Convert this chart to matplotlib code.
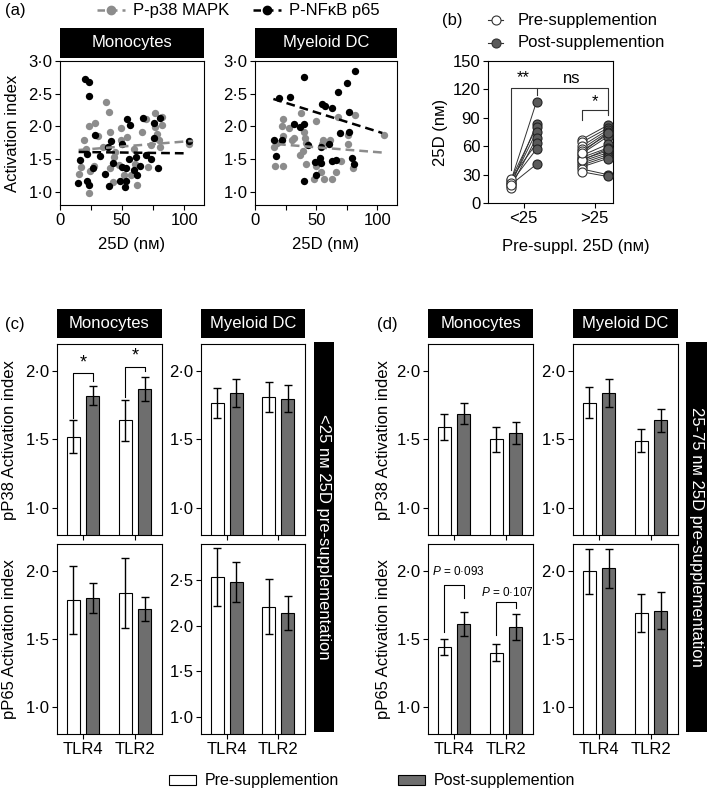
import numpy as np
import matplotlib
matplotlib.use("Agg")
import matplotlib.pyplot as plt
from matplotlib.lines import Line2D
from matplotlib.patches import Rectangle
from matplotlib.ticker import FuncFormatter

plt.rcParams['font.family'] = ['Liberation Sans', 'DejaVu Sans']
plt.rcParams['font.size'] = 12
plt.rcParams['mathtext.fontset'] = 'custom'
plt.rcParams['mathtext.it'] = 'Liberation Sans:italic'
plt.rcParams['mathtext.rm'] = 'Liberation Sans'
plt.rcParams['axes.linewidth'] = 0.8

# ---------------------------------------------------------------
# DATA
# ---------------------------------------------------------------
# (a) scatter: 25D (nM) vs activation index
mono_p38_x = [15.7, 16.8, 19.5, 21, 23.5, 28.4, 23, 23.8, 27, 30.5, 34.6, 37.3, 39.2, 40.5, 40,
              42.7, 44.6, 43.8, 47.8, 49, 49, 51.9, 54, 57.3, 59.5, 60.8, 62.2, 66.2, 69.2, 70.8,
              73, 76.2, 76.2, 78.4, 79.7, 80.5, 82.4, 81.9, 104]
mono_p38_y = [1.28, 1.38, 1.79, 1.66, 2.0, 2.05, 0.99, 1.32, 1.39, 1.85, 1.69, 2.38, 2.22, 1.92, 1.36,
              1.15, 1.61, 1.54, 1.41, 1.97, 1.79, 1.26, 1.84, 1.26, 1.66, 1.43, 1.10, 1.92, 2.11, 1.38,
              1.71, 1.99, 2.21, 1.89, 1.80, 1.69, 2.15, 2.02, 1.73]
mono_nfkb_x = [19.8, 23.3, 23.3, 28.5, 16.5, 21.7, 14.9, 22.0, 23.6, 26.6, 32.0, 36.0, 39.0, 40.7, 43.0,
               39.6, 49.6, 49.6, 48.5, 52.8, 52.6, 53.4, 54.0, 56.0, 55.5, 60.0, 61.0, 61.8, 64.5, 67.0,
               69.0, 73.7, 76.0, 76.0, 78.6, 80.5, 104.0]
mono_nfkb_y = [2.72, 2.68, 2.47, 1.87, 1.48, 1.58, 1.14, 1.17, 1.11, 1.36, 1.55, 1.27, 1.68, 1.78, 1.44,
               1.09, 1.73, 1.38, 1.16, 1.17, 1.07, 1.37, 2.11, 2.02, 1.51, 1.33, 1.54, 1.26, 1.40, 2.13,
               1.56, 1.51, 2.06, 1.82, 1.36, 2.13, 1.78]
dc_p38_x = [37.5, 23, 22, 28, 23, 32, 40, 41, 41.7, 50, 68, 76, 82, 15.3, 16.7, 22.8, 37, 39, 55.6,
            61, 54.7, 76, 70, 50, 54, 48.6, 56.4, 63.3, 66, 80, 105, 41.7, 30, 18]
dc_p38_y = [2.21, 2.11, 2.0, 1.98, 1.85, 1.82, 1.92, 1.83, 1.74, 2.09, 2.15, 1.87, 2.18, 1.68, 1.40,
            1.39, 1.56, 1.62, 1.79, 1.79, 1.73, 1.73, 1.47, 1.39, 1.31, 1.20, 1.20, 1.20, 1.30, 1.36,
            1.87, 1.42, 1.80, 1.75]
dc_nfkb_x = [19.4, 28.3, 39.7, 55, 57.5, 62.5, 68, 75, 82, 77, 32, 37, 39.7, 15.3, 22, 17, 43, 53.6,
             60.6, 69.4, 77, 49, 52.8, 54, 63, 66, 79, 80.6, 50, 40]
dc_nfkb_y = [2.44, 2.45, 2.75, 2.34, 2.32, 2.28, 2.52, 2.67, 2.85, 2.22, 2.04, 1.99, 2.04, 1.79, 1.80,
             1.55, 1.72, 1.68, 1.73, 1.90, 1.91, 1.46, 1.52, 1.44, 1.47, 1.49, 1.52, 1.43, 1.26, 1.17]
# regression lines (x range, y at ends)
mono_p38_fit_x, mono_p38_fit_y = [15, 107], [1.64, 1.78]
mono_nfkb_fit_x, mono_nfkb_fit_y = [15, 100], [1.61, 1.59]
dc_p38_fit_x, dc_p38_fit_y = [18, 105], [1.73, 1.60]
dc_nfkb_fit_x, dc_nfkb_fit_y = [15, 104], [2.42, 1.90]

# (b) paired 25D before/after supplementation
groups_b = ['<25', '>25']
lt25_pre = [22, 18, 24, 20, 16, 25, 21, 19]
lt25_post = [107, 83, 80, 75, 69, 63, 57, 41]
gt25_pre = [67, 64, 60, 57, 55, 52, 50, 48, 46, 44, 42, 40, 38, 36, 33, 45, 53]
gt25_post = [82, 79, 77, 75, 72, 70, 62, 58, 55, 53, 51, 49, 47, 30, 28, 57, 74]

# (c)/(d) bar panels: mean and SEM, order TLR4, TLR2
tlrs = ['TLR4', 'TLR2']
c_p38_mono_pre, c_p38_mono_pre_err = [1.52, 1.64], [0.12, 0.15]
c_p38_mono_post, c_p38_mono_post_err = [1.82, 1.87], [0.07, 0.09]
c_p38_dc_pre, c_p38_dc_pre_err = [1.77, 1.81], [0.11, 0.11]
c_p38_dc_post, c_p38_dc_post_err = [1.84, 1.80], [0.10, 0.10]
c_p65_mono_pre, c_p65_mono_pre_err = [1.79, 1.84], [0.25, 0.26]
c_p65_mono_post, c_p65_mono_post_err = [1.80, 1.72], [0.11, 0.09]
c_p65_dc_pre, c_p65_dc_pre_err = [2.54, 2.21], [0.32, 0.30]
c_p65_dc_post, c_p65_dc_post_err = [2.48, 2.14], [0.22, 0.19]

d_p38_mono_pre, d_p38_mono_pre_err = [1.59, 1.50], [0.095, 0.09]
d_p38_mono_post, d_p38_mono_post_err = [1.69, 1.55], [0.075, 0.08]
d_p38_dc_pre, d_p38_dc_pre_err = [1.77, 1.49], [0.115, 0.085]
d_p38_dc_post, d_p38_dc_post_err = [1.84, 1.64], [0.10, 0.085]
d_p65_mono_pre, d_p65_mono_pre_err = [1.44, 1.40], [0.06, 0.065]
d_p65_mono_post, d_p65_mono_post_err = [1.61, 1.59], [0.09, 0.095]
d_p65_dc_pre, d_p65_dc_pre_err = [2.00, 1.69], [0.165, 0.14]
d_p65_dc_post, d_p65_dc_post_err = [2.02, 1.71], [0.145, 0.135]

GRAY = '#8c8c8c'
BAR_GRAY = '#6e6e6e'
DOT_GRAY = '#5a5a5a'

# ---------------------------------------------------------------
# HELPERS
# ---------------------------------------------------------------
W, H = 709, 790
fig = plt.figure(figsize=(W / 100, H / 100), dpi=100)


def px_axes(l, t, r, b):
    return fig.add_axes([l / W, 1 - b / H, (r - l) / W, (b - t) / H])


def fx(x):
    return x / W


def fy(y):
    return 1 - y / H


def dot_fmt(v, pos):
    return f'{v:.1f}'.replace('.', '·')


def style(ax):
    ax.tick_params(direction='out', length=3.5, width=0.8, pad=2, labelsize=12)


def black_box(l, t, r, b, label, rotation=0, fontsize=12):
    bx = px_axes(l, t, r, b)
    bx.set_facecolor('black')
    bx.set_xticks([])
    bx.set_yticks([])
    for s in bx.spines.values():
        s.set_visible(False)
    bx.text(0.5, 0.5, label, color='white', ha='center', va='center',
            rotation=rotation, fontsize=fontsize, transform=bx.transAxes)
    return bx


# ---------------------------------------------------------------
# (a) scatter panels
# ---------------------------------------------------------------
def scatter_panel(ax, gx, gy, bx_, by_, gfit, bfit):
    ax.scatter(gx, gy, s=28, color=GRAY, zorder=2, linewidths=0)
    ax.scatter(bx_, by_, s=28, color='black', zorder=3, linewidths=0)
    ax.plot(gfit[0], gfit[1], ls=(0, (3.5, 2)), color=GRAY, lw=1.8, zorder=4)
    ax.plot(bfit[0], bfit[1], ls=(0, (3.5, 2)), color='black', lw=1.8, zorder=4)
    ax.set_xlim(0, 116)
    ax.set_ylim(0.8, 3.0)
    ax.set_xticks([0, 25, 50, 75, 100])
    ax.set_xticklabels(['0', '', '50', '', '100'])
    ax.set_yticks([1.0, 1.5, 2.0, 2.5, 3.0])
    ax.yaxis.set_major_formatter(FuncFormatter(dot_fmt))
    style(ax)


ax_a1 = px_axes(60, 61, 204, 205)
scatter_panel(ax_a1, mono_p38_x, mono_p38_y, mono_nfkb_x, mono_nfkb_y,
              (mono_p38_fit_x, mono_p38_fit_y), (mono_nfkb_fit_x, mono_nfkb_fit_y))
ax_a2 = px_axes(255, 61, 397, 205)
scatter_panel(ax_a2, dc_p38_x, dc_p38_y, dc_nfkb_x, dc_nfkb_y,
              (dc_p38_fit_x, dc_p38_fit_y), (dc_nfkb_fit_x, dc_nfkb_fit_y))
black_box(60, 28, 204, 58, 'Monocytes')
black_box(255, 28, 397, 58, 'Myeloid DC')

fig.text(fx(13), fy(133), 'Activation index', rotation=90, ha='center', va='center')
fig.text(fx(132), fy(245), '25D (nм)', ha='center', va='center')
fig.text(fx(326), fy(245), '25D (nм)', ha='center', va='center')
fig.text(fx(5), fy(10), '(a)', ha='left', va='center')

# legend of (a)
for x0, col, lab in [(97, GRAY, 'P-p38 MAPK'), (253, 'black', 'P-NFκB p65')]:
    fig.add_artist(Line2D([fx(x0), fx(x0 + 28)], [fy(10), fy(10)], transform=fig.transFigure,
                          color=col, lw=1.8, ls=(0, (3, 2))))
    fig.add_artist(Line2D([fx(x0 + 14)], [fy(10)], transform=fig.transFigure, marker='o',
                          ms=6, color=col, mec=col))
    fig.text(fx(x0 + 36), fy(10), lab, ha='left', va='center')

# ---------------------------------------------------------------
# (b) paired dot plot
# ---------------------------------------------------------------
ax_b = px_axes(488, 61, 613, 203)
off = 0.183
for gi, (pre, post) in enumerate([(lt25_pre, lt25_post), (gt25_pre, gt25_post)]):
    for p, q in zip(pre, post):
        ax_b.plot([gi - off, gi + off], [p, q], color='#333333', lw=0.7, zorder=2)
    ax_b.plot([gi - off] * len(pre), pre, 'o', ls='none', ms=6.5, mfc='white', mec='#333333',
              mew=0.8, zorder=3)
    ax_b.plot([gi + off] * len(post), post, 'o', ls='none', ms=6.5, mfc=DOT_GRAY, mec='#222222',
              mew=0.8, zorder=3)
ax_b.set_xlim(-0.5, 1.26)
ax_b.set_ylim(0, 150)
ax_b.set_xticks([0, 1])
ax_b.set_xticklabels(groups_b)
ax_b.set_yticks([0, 30, 60, 90, 120, 150])
style(ax_b)

bk = dict(color='#333333', lw=0.8)
ax_b.plot([-off, -off, off, off], [35, 122, 122, 114], **bk)
ax_b.plot([off, 1 + off, 1 + off], [122, 122, 95], **bk)
ax_b.plot([1 - off, 1 - off, 1 + off, 1 + off], [88, 98, 98, 93], **bk)
ax_b.text(0, 124, '**', ha='center', va='bottom', fontsize=12)
ax_b.text(0.68, 124, 'ns', ha='center', va='bottom', fontsize=12)
ax_b.text(1, 99, '*', ha='center', va='bottom', fontsize=12)

fig.text(fx(440), fy(132), '25D (nм)', rotation=90, ha='center', va='center')
fig.text(fx(576), fy(247), 'Pre-suppl. 25D (nм)', ha='center', va='center')
fig.text(fx(442), fy(20), '(b)', ha='left', va='center')
for yy, fc, lab in [(20, 'white', 'Pre-supplemention'), (43, DOT_GRAY, 'Post-supplemention')]:
    fig.add_artist(Line2D([fx(488), fx(503)], [fy(yy), fy(yy)], transform=fig.transFigure,
                          color='#333333', lw=0.8))
    fig.add_artist(Line2D([fx(495.5)], [fy(yy)], transform=fig.transFigure, marker='o', ms=6.5,
                          mfc=fc, mec='#333333', mew=0.8))
    fig.text(fx(518), fy(yy), lab, ha='left', va='center')

# ---------------------------------------------------------------
# (c)/(d) bar panels
# ---------------------------------------------------------------
BW, BOFF = 0.245, 0.185


def bar_panel(ax, pre, pre_err, post, post_err, ylim, yticks, xlabels):
    x = np.arange(len(tlrs))
    ek = dict(lw=1.0, capthick=1.0)
    ax.bar(x - BOFF, pre, BW, color='white', edgecolor='black', lw=0.8,
           yerr=pre_err, capsize=3, error_kw=ek)
    ax.bar(x + BOFF, post, BW, color=BAR_GRAY, edgecolor='black', lw=0.8,
           yerr=post_err, capsize=3, error_kw=ek)
    ax.set_xlim(-0.5, 1.52)
    ax.set_ylim(*ylim)
    ax.set_xticks(x)
    ax.set_xticklabels(tlrs if xlabels else ['', ''])
    ax.set_yticks(yticks)
    ax.yaxis.set_major_formatter(FuncFormatter(dot_fmt))
    style(ax)


def bracket(ax, x0, x1, ytop, yl, yr):
    ax.plot([x0, x0, x1, x1], [yl, ytop, ytop, yr], color='black', lw=0.8)


T3 = [1.0, 1.5, 2.0]
# (c)
ax = px_axes(57, 344, 162, 535)
bar_panel(ax, c_p38_mono_pre, c_p38_mono_pre_err, c_p38_mono_post, c_p38_mono_post_err,
          (0.8, 2.2), T3, False)
bracket(ax, -BOFF, BOFF, 1.985, 1.66, 1.93)
ax.text(0, 2.0, '*', ha='center', va='bottom', fontsize=13)
bracket(ax, 1 - BOFF, 1 + BOFF, 2.035, 1.81, 2.0)
ax.text(1, 2.05, '*', ha='center', va='bottom', fontsize=13)

ax = px_axes(201, 344, 305, 535)
bar_panel(ax, c_p38_dc_pre, c_p38_dc_pre_err, c_p38_dc_post, c_p38_dc_post_err,
          (0.8, 2.2), T3, False)
ax = px_axes(57, 544, 162, 734)
bar_panel(ax, c_p65_mono_pre, c_p65_mono_pre_err, c_p65_mono_post, c_p65_mono_post_err,
          (0.8, 2.2), T3, True)
ax = px_axes(201, 544, 305, 734)
bar_panel(ax, c_p65_dc_pre, c_p65_dc_pre_err, c_p65_dc_post, c_p65_dc_post_err,
          (0.81, 2.9), [1.0, 1.5, 2.0, 2.5], True)

black_box(57, 309, 162, 338, 'Monocytes')
black_box(201, 309, 305, 338, 'Myeloid DC')
black_box(314, 342, 334, 732, '<25 nм 25D pre-supplementation', rotation=270)
fig.text(fx(10), fy(440), 'pP38 Activation index', rotation=90, ha='center', va='center')
fig.text(fx(10), fy(639), 'pP65 Activation index', rotation=90, ha='center', va='center')
fig.text(fx(5), fy(325), '(c)', ha='left', va='center')

# (d)
ax = px_axes(428, 344, 533, 535)
bar_panel(ax, d_p38_mono_pre, d_p38_mono_pre_err, d_p38_mono_post, d_p38_mono_post_err,
          (0.8, 2.2), T3, False)
ax = px_axes(573, 344, 678, 535)
bar_panel(ax, d_p38_dc_pre, d_p38_dc_pre_err, d_p38_dc_post, d_p38_dc_post_err,
          (0.8, 2.2), T3, False)
ax = px_axes(428, 544, 533, 734)
bar_panel(ax, d_p65_mono_pre, d_p65_mono_pre_err, d_p65_mono_post, d_p65_mono_post_err,
          (0.8, 2.2), T3, True)
bracket(ax, -BOFF, BOFF, 1.90, 1.55, 1.80)
ax.text(-0.42, 2.0, '$P$ = 0·093', ha='left', va='center', fontsize=8.5)
bracket(ax, 1 - BOFF, 1 + BOFF, 1.77, 1.53, 1.73)
ax.text(1.02, 1.84, '$P$ = 0·107', ha='center', va='center', fontsize=8.5)
ax = px_axes(573, 544, 678, 734)
bar_panel(ax, d_p65_dc_pre, d_p65_dc_pre_err, d_p65_dc_post, d_p65_dc_post_err,
          (0.8, 2.2), T3, True)

black_box(428, 309, 533, 338, 'Monocytes')
black_box(573, 309, 678, 338, 'Myeloid DC')
black_box(686, 342, 707, 732, '25-75 nм 25D pre-supplementation', rotation=270)
fig.text(fx(383), fy(440), 'pP38 Activation index', rotation=90, ha='center', va='center')
fig.text(fx(383), fy(639), 'pP65 Activation index', rotation=90, ha='center', va='center')
fig.text(fx(377), fy(325), '(d)', ha='left', va='center')

# bottom legend
for x0, fc, lab in [(169, 'white', 'Pre-supplemention'), (398, BAR_GRAY, 'Post-supplemention')]:
    fig.add_artist(Rectangle((fx(x0), fy(785)), fx(27), 10 / H, transform=fig.transFigure,
                             facecolor=fc, edgecolor='black', lw=0.8))
    fig.text(fx(x0 + 36), fy(780), lab, ha='left', va='center', fontsize=11.5)

fig.savefig('out.png', dpi=100)
